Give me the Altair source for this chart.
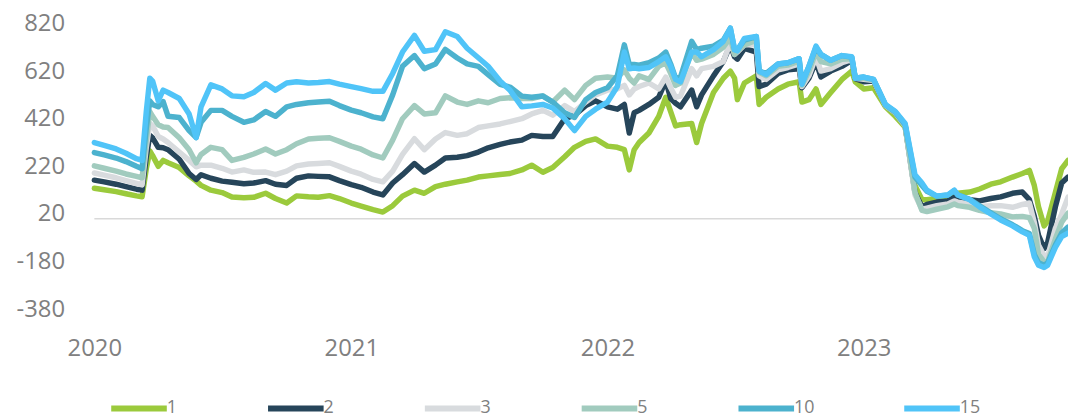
import altair as alt
import pandas as pd

dates = [
    "2020-01-01", "2020-01-15", "2020-02-01", "2020-02-15", "2020-03-01", "2020-03-09", "2020-03-15",
    "2020-03-20", "2020-03-24", "2020-04-01", "2020-04-08", "2020-04-15", "2020-05-01", "2020-05-15",
    "2020-05-25", "2020-06-01", "2020-06-15", "2020-07-01", "2020-07-15", "2020-08-01", "2020-08-15",
    "2020-09-01", "2020-09-15", "2020-10-01", "2020-10-15", "2020-11-01", "2020-11-15", "2020-12-01",
    "2020-12-15",
    "2021-01-01", "2021-01-15", "2021-02-01", "2021-02-15", "2021-03-01", "2021-03-15", "2021-04-01",
    "2021-04-15", "2021-05-01", "2021-05-15", "2021-06-01", "2021-06-15", "2021-07-01", "2021-07-15",
    "2021-08-01", "2021-08-15", "2021-09-01", "2021-09-15", "2021-10-01", "2021-10-15", "2021-11-01",
    "2021-11-15", "2021-12-01", "2021-12-15",
    "2022-01-01", "2022-01-15", "2022-01-25", "2022-02-01", "2022-02-08", "2022-02-15", "2022-03-01",
    "2022-03-15", "2022-03-25", "2022-04-01", "2022-04-08", "2022-04-15", "2022-05-01", "2022-05-08",
    "2022-05-15", "2022-06-01", "2022-06-15", "2022-06-25", "2022-07-01", "2022-07-05", "2022-07-15",
    "2022-08-01", "2022-08-05", "2022-08-15", "2022-09-01", "2022-09-15", "2022-10-01", "2022-10-05",
    "2022-10-15", "2022-10-25", "2022-11-01", "2022-11-15", "2022-12-01", "2022-12-15", "2022-12-20",
    "2023-01-01", "2023-01-15", "2023-02-01", "2023-02-15", "2023-03-01", "2023-03-15", "2023-03-25",
    "2023-04-01", "2023-04-15", "2023-05-01", "2023-05-10", "2023-05-15", "2023-06-01", "2023-06-15",
    "2023-07-01", "2023-07-15", "2023-08-01", "2023-08-15", "2023-08-25", "2023-09-01", "2023-09-07",
    "2023-09-15", "2023-09-20", "2023-10-01", "2023-10-10", "2023-10-19",
]

s1 = [
    128, 122, 114, 105, 96, 92, 210, 285, 265, 220, 245, 235, 215, 180, 158, 140, 120, 110, 91, 88, 90,
    107, 85, 66, 96, 92, 90, 97, 85,
    66, 53, 38, 28, 55, 95, 120, 107, 135, 145, 155, 162, 175, 180, 186, 190, 205, 225, 195, 215, 260,
    300, 325, 335,
    305, 300, 290, 205, 290, 320, 360, 430, 510, 450, 390, 395, 400, 320, 400, 530, 590, 620, 590, 500,
    570, 600, 480, 510, 545, 565, 575, 490, 500, 545, 480, 530, 585, 620, 575,
    545, 550, 470, 430, 385, 140, 80, 80, 85, 95, 105, 107, 112, 125, 145, 155, 175, 190, 203, 140, 50,
    -30, -10, 110, 210, 245,
]
s2 = [
    162, 155, 145, 135, 124, 120, 260, 350, 340, 300, 298, 290, 250, 190, 165, 185, 170, 158, 153, 147,
    150, 160, 145, 140, 170, 180, 178, 176, 160,
    143, 132, 112, 100, 150, 185, 232, 196, 225, 255, 258, 265, 280, 298, 312, 322, 330, 350, 345, 345,
    420, 435, 475, 495,
    470, 460, 480, 360, 445, 455, 480, 510, 580, 505, 485, 470, 540, 470, 520, 600, 660, 730, 680, 670,
    715, 700, 555, 565, 610, 625, 630, 550, 590, 660, 595, 620, 640, 665, 588,
    575, 578, 475, 445, 390, 110, 50, 60, 70, 75, 90, 90, 80, 75, 85, 92, 107, 112, 80, 10, -70, -125,
    -100, 50, 150, 175,
]
s3 = [
    192, 183, 172, 160, 148, 142, 300, 400, 390, 345, 335, 320, 280, 245, 218, 225, 225, 212, 196, 205,
    195, 196, 185, 200, 222, 230, 232, 235, 220,
    200, 187, 165, 155, 200, 270, 336, 290, 335, 362, 350, 357, 383, 390, 398, 408, 420, 440, 455, 435,
    475, 450, 490, 520,
    540, 545, 560, 520, 545, 555, 570, 545, 595, 550, 510, 515, 630, 600, 630, 640, 660, 740, 690, 700,
    730, 730, 600, 585, 625, 635, 650, 555, 600, 680, 620, 630, 655, 668, 590,
    585, 580, 475, 445, 390, 100, 40, 45, 55, 62, 75, 70, 62, 52, 55, 55, 48, 60, 66, -15, -110, -155,
    -158, -40, 20, 91,
]
s5 = [
    222, 212, 200, 188, 178, 172, 330, 450, 430, 395, 385, 383, 340, 290, 235, 270, 300, 290, 245, 258,
    272, 293, 272, 290, 315, 335, 338, 340, 325,
    305, 292, 268, 255, 330, 420, 475, 440, 445, 516, 490, 480, 495, 487, 505, 508, 505, 505, 516, 490,
    540, 500, 560, 590,
    595, 590, 625, 590, 570, 600, 585, 640, 655, 610, 560, 570, 700, 665, 670, 690, 720, 760, 690, 705,
    730, 750, 615, 600, 640, 645, 662, 560, 620, 700, 660, 650, 670, 672, 590,
    590, 582, 475, 445, 390, 110, 35, 30, 40, 50, 62, 55, 48, 35, 25, 20, 8, 10, 5, -40, -150, -180,
    -180, -85, -15, 24,
]
s10 = [
    278, 268, 255, 240, 220, 210, 380, 495, 480, 470, 492, 430, 425, 370, 341, 405, 455, 455, 430, 405,
    415, 450, 430, 470, 480, 487, 490, 493, 475,
    456, 445, 428, 420, 520, 640, 685, 630, 650, 711, 675, 650, 640, 605, 564, 553, 515, 510, 515, 490,
    445, 425, 500, 530,
    550, 600, 730, 648, 648, 645, 655, 675, 700, 650, 590, 595, 745, 710, 716, 725, 750, 800, 710, 710,
    750, 765, 620, 610, 650, 655, 672, 570, 640, 720, 690, 665, 685, 678, 590,
    595, 585, 478, 448, 395, 175, 140, 115, 95, 100, 118, 100, 82, 55, 25, 0, -25, -50, -62, -150, -185,
    -195, -185, -110, -60, -35,
]
s15 = [
    320, 308, 293, 275, 252, 245, 450, 590, 578, 495, 540, 530, 505, 440, 341, 470, 562, 545, 516, 512,
    530, 568, 540, 570, 575, 570, 572, 576, 565,
    555, 546, 535, 535, 610, 700, 770, 703, 710, 785, 765, 716, 676, 640, 578, 540, 470, 474, 480, 465,
    420, 370, 430, 460,
    490, 555, 700, 630, 633, 630, 635, 660, 680, 640, 585, 575, 700, 700, 680, 710, 745, 800, 710, 705,
    757, 765, 620, 605, 650, 655, 672, 565, 640, 725, 690, 665, 685, 680, 590,
    595, 585, 480, 450, 400, 185, 150, 120, 95, 100, 120, 100, 80, 50, 20, -5, -30, -55, -70, -160, -195,
    -205, -195, -120, -75, -60,
]

series_names = ["1", "2", "3", "5", "10", "15"]
series_values = [s1, s2, s3, s5, s10, s15]
colors = ["#9BCA3C", "#26455A", "#D8DBDE", "#A1CBBE", "#4CB2CE", "#50C4F8"]
y_ticks = [-380, -180, 20, 220, 420, 620, 820]
year_ticks = [2020, 2021, 2022, 2023]

rows = []
for name, vals in zip(series_names, series_values):
    for d, v in zip(dates, vals):
        rows.append({"date": d, "value": v, "series": name})
df = pd.DataFrame(rows)

FONT = "Open Sans"
GREY = "#808080"

x_scale = alt.Scale(
    type="utc",
    domain=[alt.DateTime(year=2020, month=1, date=1, utc=True),
            alt.DateTime(year=2023, month=10, date=19, utc=True)],
)
y_scale = alt.Scale(domain=[-380, 820], nice=False, zero=False)
color_scale = alt.Scale(domain=series_names, range=colors)

x_axis = alt.Axis(
    values=[alt.DateTime(year=y, month=1, date=1, utc=True) for y in year_ticks],
    format="%Y", formatType="utc", domain=False, ticks=False, grid=False,
    labelFontSize=24, labelColor=GREY, labelFont=FONT, labelPadding=28, title=None,
    labelFlush=False, labelAlign="center", labelOverlap=False,
)
y_axis = alt.Axis(
    values=y_ticks, domain=False, ticks=False, grid=False,
    labelFontSize=24, labelColor=GREY, labelFont=FONT, labelPadding=30, title=None,
    labelFlush=False, labelOverlap=False, labelExpr="toString(datum.value)",
)
legend = alt.Legend(
    title=None, orient="none", legendX=14, legendY=357, direction="horizontal",
    symbolType="stroke", symbolSize=3136, symbolStrokeWidth=6,
    labelFontSize=18, labelColor=GREY, labelFont=FONT, labelOffset={"expr": "-3"},
    columnPadding=78, padding=0,
)

zero = alt.Chart(pd.DataFrame({"z": [0]})).mark_rule(color="#D9D9D9", strokeWidth=1.5).encode(
    y=alt.Y("z:Q", scale=y_scale, axis=y_axis)
)

layers = [zero]
for name in series_names:
    layers.append(
        alt.Chart(df)
        .transform_filter(alt.datum.series == name)
        .mark_line(strokeWidth=5.5, strokeJoin="round", strokeCap="round")
        .encode(
            x=alt.X("date:T", scale=x_scale, axis=x_axis),
            y=alt.Y("value:Q", scale=y_scale, axis=y_axis),
            color=alt.Color("series:N", scale=color_scale, legend=legend),
        )
    )

chart = (
    alt.layer(*layers)
    .properties(
        width=981, height=288,
        autosize=alt.AutoSizeParams(type="none"),
        padding={"left": 87, "top": 14, "right": 0, "bottom": 109},
        background="white",
    )
    .configure_view(stroke=None)
)

chart.save("out.html", embed_options={"renderer": "svg", "actions": False})
